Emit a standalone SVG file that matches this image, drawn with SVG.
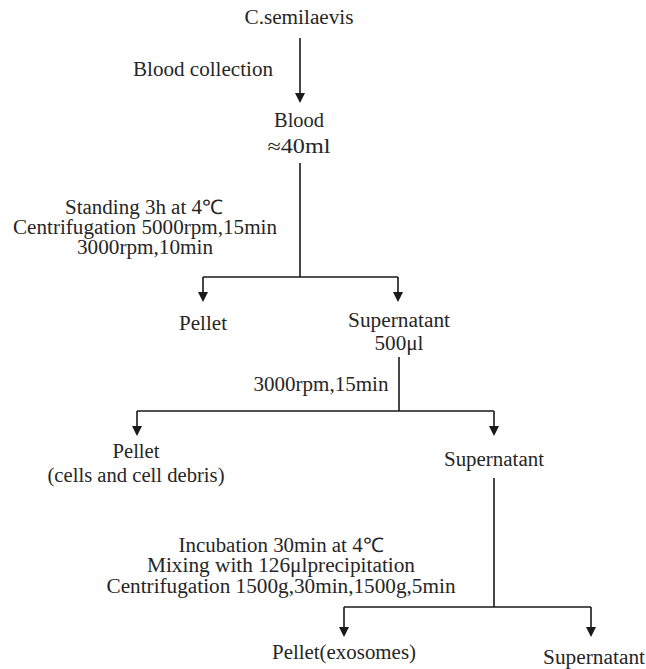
<svg xmlns="http://www.w3.org/2000/svg" width="646" height="669" viewBox="0 0 646 669">
<style>
text{font-family:'Times New Roman','Liberation Serif',Tinos,serif;font-size:20px;fill:#262626;text-anchor:middle}
.ln{stroke:#1a1a1a;stroke-width:1.6;fill:none}
.ah{fill:#1a1a1a}
</style>
<rect width="646" height="669" fill="#fff"/>
<g id="connectors">
<path class="ln" d="M300,38 V95"/>
<path class="ah" d="M295,93 L305,93 L300,103 Z"/>
<path class="ln" d="M300,163 V277 M203,277 H398 M203,277 V293 M398,277 V293"/>
<path class="ah" d="M198,292 L208,292 L203,302 Z M393,292 L403,292 L398,302 Z"/>
<path class="ln" d="M399,357 V411 M137,411 H494 M137,411 V427 M494,411 V427"/>
<path class="ah" d="M132,426 L142,426 L137,436 Z M489,426 L499,426 L494,436 Z"/>
<path class="ln" d="M494,478 V607 M344,607 H591 M344,607 V628 M591,607 V628"/>
<path class="ah" d="M339,627 L349,627 L344,637 Z M586,627 L596,627 L591,637 Z"/>
</g>
<g id="n-csemilaevis"><text x="299" y="24" textLength="109" lengthAdjust="spacingAndGlyphs">C.semilaevis</text></g>
<g id="l-blood-collection"><text x="203" y="76" textLength="140" lengthAdjust="spacingAndGlyphs">Blood collection</text></g>
<g id="n-blood"><text x="299" y="127" textLength="50" lengthAdjust="spacingAndGlyphs">Blood</text><text x="299" y="153" textLength="63" lengthAdjust="spacingAndGlyphs">≈40ml</text></g>
<g id="l-step1">
<text x="144" y="214" textLength="158" lengthAdjust="spacingAndGlyphs">Standing 3h at 4℃</text>
<text x="145" y="234" textLength="264" lengthAdjust="spacingAndGlyphs">Centrifugation 5000rpm,15min</text>
<text x="145" y="254" textLength="136" lengthAdjust="spacingAndGlyphs">3000rpm,10min</text>
</g>
<g id="n-pellet1"><text x="203" y="330" textLength="48" lengthAdjust="spacingAndGlyphs">Pellet</text></g>
<g id="n-supernatant1"><text x="399" y="327" textLength="102" lengthAdjust="spacingAndGlyphs">Supernatant</text><text x="399" y="350" textLength="49" lengthAdjust="spacingAndGlyphs">500μl</text></g>
<g id="l-step2"><text x="321" y="391" textLength="135" lengthAdjust="spacingAndGlyphs">3000rpm,15min</text></g>
<g id="n-pellet2"><text x="136" y="458" textLength="47" lengthAdjust="spacingAndGlyphs">Pellet</text><text x="136" y="482" textLength="177" lengthAdjust="spacingAndGlyphs">(cells and cell debris)</text></g>
<g id="n-supernatant2"><text x="494" y="466" textLength="100" lengthAdjust="spacingAndGlyphs">Supernatant</text></g>
<g id="l-step3">
<text x="281" y="552" textLength="205" lengthAdjust="spacingAndGlyphs">Incubation 30min at 4℃</text>
<text x="281" y="572" textLength="268" lengthAdjust="spacingAndGlyphs">Mixing with 126μlprecipitation</text>
<text x="281" y="593" textLength="349" lengthAdjust="spacingAndGlyphs">Centrifugation 1500g,30min,1500g,5min</text>
</g>
<g id="n-pellet3"><text x="344" y="659" textLength="144" lengthAdjust="spacingAndGlyphs">Pellet(exosomes)</text></g>
<g id="n-supernatant3"><text x="594" y="664" textLength="102" lengthAdjust="spacingAndGlyphs">Supernatant</text></g>
</svg>
